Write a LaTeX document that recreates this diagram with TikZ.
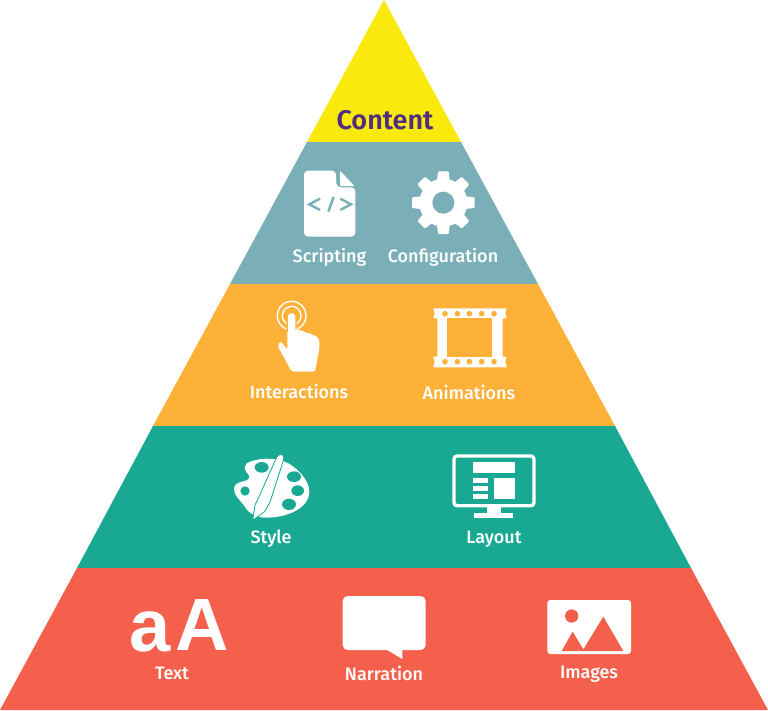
\documentclass[tikz,border=0pt]{standalone}
\usepackage{fontspec}
\setmainfont{Fira Sans}[BoldFont=Fira Sans Medium]
\newfontfamily\contentfont{Fira Sans}[BoldFont=Fira Sans SemiBold]
\newfontfamily\iconfont{Liberation Sans}
\definecolor{cyel}{HTML}{FAE90C}
\definecolor{cblu}{HTML}{7AAFB8}
\definecolor{corg}{HTML}{FDB138}
\definecolor{cgrn}{HTML}{19A892}
\definecolor{cred}{HTML}{F4604C}
\definecolor{cpur}{HTML}{4F2D83}
\tikzset{
  lbl/.style={text=white,font=\fontsize{18}{19}\selectfont\bfseries,inner sep=0pt,anchor=center},
  bigglyph/.style={inner sep=0pt,text=white,font=\iconfont\fontsize{74}{74}\selectfont\bfseries},
  zoomed/.style={shift={#1},scale=0.33333}
}
\begin{document}
\begin{tikzpicture}[x=1pt,y=-1pt]
\useasboundingbox (0,0) rectangle (768,710);
% layers
\fill[cyel] (384,0) -- (461,142) -- (307,142) -- cycle;
\fill[cblu] (307,142) -- (461,142) -- (538,284) -- (230,284) -- cycle;
\fill[corg] (230,284) -- (538,284) -- (615,426) -- (153,426) -- cycle;
\fill[cgrn] (153,426) -- (615,426) -- (691,568) -- (77,568) -- cycle;
\fill[cred] (77,568) -- (691,568) -- (768,710) -- (0,710) -- cycle;
% document icon
\begin{scope}[zoomed={(230,150)}]
\fill[white,rounded corners=4pt] (222,62) -- (318,62) -- (318,100) -- (322,112) -- (376,112) -- (376,260) -- (222,260) -- cycle;
\fill[white,rounded corners=0.8pt] (330,62) -- (373,108) -- (330,108) -- cycle;
\draw[cblu,line width=2.4pt] (270,146) -- (238,163) -- (270,180);
\draw[cblu,line width=2.4pt] (311,141) -- (295,185);
\draw[cblu,line width=2.4pt] (331,146) -- (363,163) -- (331,180);
% gear
\fill[white] (640,158) circle[radius=72];
\foreach \a in {0,45,...,315}{
  \fill[white,rounded corners=1pt,rotate around={\a:(640,158)}] (620,100) -- (624,64) -- (656,64) -- (660,100) -- cycle;
}
\fill[cblu] (640,158) circle[radius=33];
\end{scope}
% hand icon
\begin{scope}[zoomed={(230,290)}]
\draw[white,line width=1.4pt] (185,77) circle[radius=43];
\draw[white,line width=1.4pt] (185,77) circle[radius=28];
\fill[white,rounded corners=2pt,draw=corg,line width=1.2pt,line join=round]
  (172,82) .. controls (172,65) and (198,65) .. (198,82) -- (198,120) -- (198,190) -- (172,190) -- cycle;
\fill[white,rounded corners=2.5pt] (198,118) -- (218,122) -- (222,127) -- (240,130) -- (245,135) -- (258,137) -- (268,148) -- (268,175) -- (255,245) -- (185,245) -- (143,168) -- (152,153) -- (172,180) -- (172,120) -- cycle;
% film icon
\fill[white] (610,55) -- (830,55) -- (826,70) -- (830,85) -- (818,85) -- (818,200) -- (830,200) -- (826,215) -- (830,232) -- (610,232) -- (614,215) -- (610,200) -- (622,200) -- (622,85) -- (610,85) -- (614,70) -- cycle;
\fill[corg] (650,85) rectangle (785,200);
\foreach \x in {645,682,718,755,792}{
  \fill[corg] (\x,71) circle[radius=8.5];
  \fill[corg] (\x,215) circle[radius=8.5];
}
\end{scope}
% palette icon
\begin{scope}[zoomed={(220,445)}]
\fill[white] (80,55) .. controls (110,38) and (170,35) .. (205,55) .. controls (240,75) and (268,110) .. (268,140) .. controls (268,190) and (200,218) .. (140,218) .. controls (110,218) and (85,205) .. (75,185) .. controls (60,165) and (40,150) .. (42,130) .. controls (45,105) and (80,115) .. (88,98) .. controls (92,85) and (62,80) .. (80,55) -- cycle;
\fill[cgrn] (125,67) ellipse[x radius=21,y radius=16];
\fill[cgrn] (222,95) ellipse[x radius=21,y radius=16];
\fill[cgrn] (233,137) ellipse[x radius=19,y radius=16];
\fill[cgrn] (207,178) ellipse[x radius=21,y radius=17];
\fill[cgrn] (75,138) circle[radius=14];
\draw[white,fill=white,line join=round,line width=0.4pt,preaction={draw=cgrn,line width=2.4pt}]
  (172,38) .. controls (178,28) and (192,28) .. (189,42) -- (148,170) -- (132,198) -- (101,221) -- (107,182) -- (122,150) -- cycle;
% monitor
\draw[white,line width=3.3pt,rounded corners=3pt] (702,33) rectangle (942,182);
\fill[white] (758,52) rectangle (885,83);
\fill[white] (822,100) rectangle (885,163);
\fill[white] (758,100) rectangle (805,115);
\fill[white] (758,123) rectangle (805,138);
\fill[white] (758,148) rectangle (805,163);
\fill[white] (802,182) rectangle (844,205);
\fill[white] (763,205) rectangle (880,218);
\end{scope}
% bottom icons
\node[bigglyph] (iconA) at (202,625) {A};
\node[bigglyph] (icona) at (150,632) {a};
\begin{scope}[zoomed={(120,590)}]
\fill[white,rounded corners=5pt] (668,18) -- (917,18) -- (917,180) -- (668,180) -- cycle;
\fill[white] (798,178) -- (847,207) -- (847,178) -- cycle;
\fill[white,rounded corners=3pt] (1282,30) rectangle (1533,192);
\fill[cred] (1355,78) circle[radius=20];
\fill[cred] (1325,183) -- (1358,125) -- (1390,178) -- (1450,80) -- (1510,183) -- cycle;
\end{scope}
% labels
\node[inner sep=0pt,text=cpur,font=\contentfont\fontsize{27}{29}\selectfont\bfseries] (content) at (385,120) {Content};
\node[lbl] (scripting) at (329.5,257) {Scripting};
\node[lbl] (configuration) at (443,257) {Configuration};
\node[lbl] (interactions) at (299,391) {Interactions};
\node[lbl] (animations) at (469,392) {Animations};
\node[lbl] (style) at (271,539) {Style};
\node[lbl] (layout) at (494,539) {Layout};
\node[lbl] (text) at (172,673) {Text};
\node[lbl] (narration) at (384,673) {Narration};
\node[lbl] (images) at (589,674) {Images};
\end{tikzpicture}
\end{document}
